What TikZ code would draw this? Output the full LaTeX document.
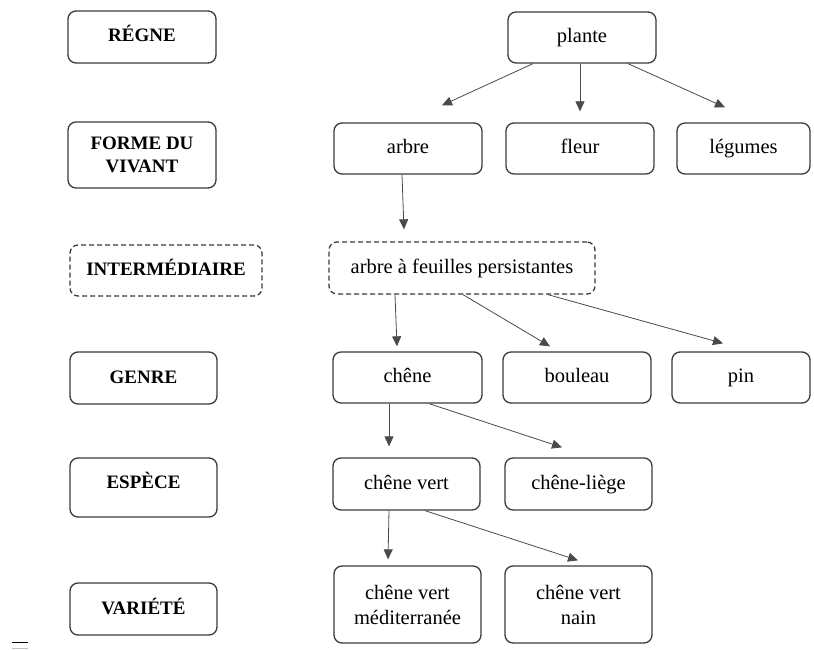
\documentclass[tikz,border=0pt]{standalone}
\usepackage{fontspec}
\setmainfont{Liberation Serif}
\usetikzlibrary{arrows.meta}
\definecolor{boxc}{HTML}{3A3A3A}
\definecolor{arrc}{HTML}{4A4A4A}
\tikzset{
  bx/.style={draw=boxc, line width=1.3pt, rounded corners=8pt, align=center,
    inner sep=0pt, font=\fontsize{20.5}{25}\selectfont},
  one/.style={text height=14pt, text depth=4pt},
  lab/.style={bx, font=\fontsize{19}{23}\selectfont\bfseries},
  dsh/.style={dash pattern=on 5pt off 3pt},
  arr/.style={draw=arrc, line width=0.8pt, -{Triangle[length=10pt,width=9pt]}},
}
\begin{document}
\begin{tikzpicture}[x=1pt,y=-1pt]
\useasboundingbox (0,0) rectangle (814,650);
% left column
\node[lab, one, minimum width=148pt, minimum height=52pt] (regne) at (142,37) {RÉGNE};
\node[lab, minimum width=148pt, minimum height=66pt] (forme) at (142,155) {FORME DU\\VIVANT};
\node[lab, one, dsh, minimum width=192pt, minimum height=51pt] (inter) at (166,270.5) {INTERMÉDIAIRE};
\node[lab, one, minimum width=147pt, minimum height=52pt] (genre) at (143.5,378) {GENRE};
\node[lab, minimum width=147pt, minimum height=59pt, text height=14pt, text depth=12pt] (espece) at (143.5,487.5) {ESPÈCE};
\node[lab, one, minimum width=147pt, minimum height=52pt] (variete) at (143.5,609) {VARIÉTÉ};
% right tree
\node[bx, one, minimum width=148pt, minimum height=51pt] (plante) at (582,37.5) {plante};
\node[bx, one, minimum width=148pt, minimum height=51pt] (arbre) at (408,148.5) {arbre};
\node[bx, one, minimum width=148pt, minimum height=51pt] (fleur) at (580,148.5) {fleur};
\node[bx, one, minimum width=133pt, minimum height=51pt] (legumes) at (743.5,148.5) {légumes};
\node[bx, one, dsh, minimum width=266pt, minimum height=52pt] (pers) at (462,268) {arbre à feuilles persistantes};
\node[bx, one, minimum width=149pt, minimum height=51pt] (chene) at (407.5,377.5) {chêne};
\node[bx, one, minimum width=148pt, minimum height=51pt] (bouleau) at (577,377.5) {bouleau};
\node[bx, one, minimum width=138pt, minimum height=51pt] (pin) at (741,377.5) {pin};
\node[bx, one, minimum width=147pt, minimum height=52pt] (cvert) at (406.5,484) {chêne vert};
\node[bx, one, minimum width=147pt, minimum height=52pt] (liege) at (578.5,484) {chêne-liège};
\node[bx, minimum width=147pt, minimum height=77pt] (medit) at (407.5,604.5) {chêne vert\\méditerranée};
\node[bx, minimum width=147pt, minimum height=77pt] (nain) at (578.5,604.5) {chêne vert\\nain};
% arrows
\draw[arr] ([xshift=-49pt]plante.south) -- ([xshift=34pt,yshift=17pt]arbre.north);
\draw[arr] ([xshift=-2pt]plante.south) -- ([yshift=11pt]fleur.north);
\draw[arr] ([xshift=46pt]plante.south) -- ([xshift=-18.5pt,yshift=15pt]legumes.north);
\draw[arr] ([xshift=-6pt]arbre.south) -- ([xshift=-58pt,yshift=12pt]pers.north);
\draw[arr] ([xshift=-67pt]pers.south) -- ([xshift=-10.5pt,yshift=5pt]chene.north);
\draw[arr] ([xshift=1pt]pers.south) -- ([xshift=-27pt,yshift=5pt]bouleau.north);
\draw[arr] ([xshift=86pt]pers.south) -- ([xshift=-18pt,yshift=8pt]pin.north);
\draw[arr] ([xshift=-18.5pt]chene.south) -- ([xshift=-17.5pt,yshift=11pt]cvert.north);
\draw[arr] ([xshift=21.5pt]chene.south) -- ([xshift=-16.5pt,yshift=10pt]liege.north);
\draw[arr] ([xshift=-17.5pt]cvert.south) -- ([xshift=-19.5pt,yshift=6pt]medit.north);
\draw[arr] ([xshift=18.5pt]cvert.south) -- ([xshift=-0.5pt,yshift=5pt]nain.north);
% small mark bottom left
\draw[black, line width=1pt] (12,642) -- (28,642);
\draw[gray!50, line width=1pt] (12,648) -- (28,648);
\end{tikzpicture}
\end{document}
